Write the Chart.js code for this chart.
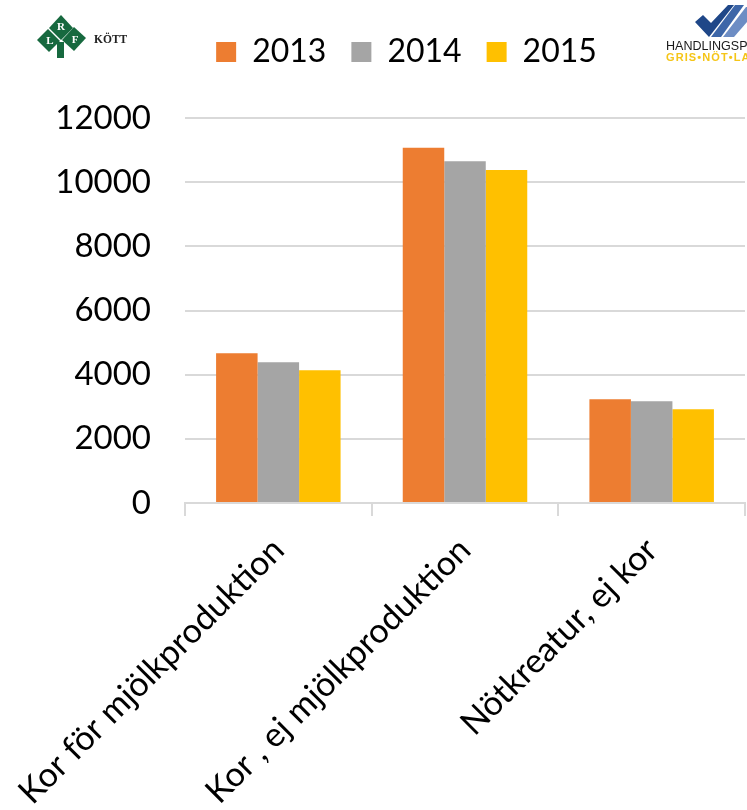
<!DOCTYPE html>
<html>
<head>
<meta charset="utf-8">
<style>
  html, body { margin: 0; padding: 0; background: #fff; overflow: hidden; }
  #wrap { position: relative; width: 747px; height: 810px; }
  canvas { position: absolute; left: 0; top: 0; }
  svg { position: absolute; }
</style>
<script src="https://cdn.jsdelivr.net/npm/chart.js"></script>
</head>
<body>
<div id="wrap">
  <canvas id="myChart" width="747" height="810"></canvas>

  <!-- LRF Kött logo -->
  <svg style="left:0;top:0" width="150" height="70" viewBox="0 0 150 70">
    <g fill="#17693f">
      <polygon points="61,15 73,28 61,40 49,28"/>
      <polygon points="48,29 60,41 49,52 37,40"/>
      <polygon points="74,27 86,38 74,51 62,40"/>
      <rect x="57" y="42" width="7" height="16"/>
    </g>
    <g fill="#fff" font-family="Liberation Serif" font-weight="bold" font-size="11" text-anchor="middle">
      <text x="61" y="30">R</text>
      <text x="50" y="44">L</text>
      <text x="75" y="43">F</text>
    </g>
    <text x="94" y="43" font-family="Liberation Serif" font-weight="bold" font-size="11.5" fill="#222">KÖTT</text>
  </svg>

  <!-- Handlingsplan logo, cut off by the picture edge -->
  <svg style="left:620px;top:0" width="127" height="70" viewBox="0 0 127 70">
    <polygon points="75,22 83,15 91,23 108,5 114,5 89,37" fill="#1f4788"/>
    <polygon points="91,37 115,5 124,5 101,37" fill="#3d66a8"/>
    <polygon points="103,37 126,7 127,7 127,22 114,37" fill="#6d8dc4"/>
    <text x="46" y="50" font-family="Liberation Sans" font-size="12.5" fill="#1a1a1a" textLength="106" lengthAdjust="spacingAndGlyphs">HANDLINGSPLAN</text>
    <text x="46" y="61" font-family="Liberation Sans" font-weight="bold" font-size="11" fill="#f5c518" textLength="104" lengthAdjust="spacing">GRIS•NÖT•LAMM</text>
  </svg>
</div>

<script>
// Values
const categories = ['Kor för mjölkproduktion', 'Kor , ej mjölkproduktion', 'Nötkreatur, ej kor'];
const years = ['2013', '2014', '2015'];
const values2013 = [4670, 11070, 3235];
const values2014 = [4390, 10650, 3170];
const values2015 = [4140, 10380, 2920];
const yearColors = ['#ed7d31', '#a5a5a5', '#ffc000'];
const yTicks = [0, 2000, 4000, 6000, 8000, 10000, 12000];

const fontFamily = 'Lato, "Open Sans", sans-serif';
const gridColor = '#d9d9d9';

// keeps the legend row up by the logos and leaves the gap down to the plot
const legendPlace = {
  id: 'legendPlace',
  beforeLayout(chart) {
    const legend = chart.legend;
    if (!legend._placed) {
      const fit = legend.fit.bind(legend);
      legend.fit = function () {
        fit();
        this.height = 107;
      };
      legend._placed = true;
    }
  },
  afterLayout(chart) {
    chart.legend.left += 34;
    chart.legend.right += 34;
  }
};

const chart = new Chart(document.getElementById('myChart').getContext('2d'), {
  type: 'bar',
  data: {
    labels: categories,
    datasets: [values2013, values2014, values2015].map((vals, i) => ({
      label: years[i],
      data: vals,
      backgroundColor: yearColors[i],
      borderWidth: 0,
      barPercentage: 1,
      categoryPercentage: 0.667
    }))
  },
  plugins: [legendPlace],
  options: {
    responsive: false,
    animation: false,
    layout: { padding: { top: 11, right: 2, left: 0, bottom: 0 } },
    plugins: {
      tooltip: { enabled: false },
      legend: {
        position: 'top',
        align: 'center',
        labels: {
          boxWidth: 20,
          boxHeight: 20,
          padding: 25,
          color: '#000',
          font: { family: fontFamily, size: 32 }
        }
      }
    },
    scales: {
      x: {
        offset: true,
        grid: {
          offset: true,
          drawOnChartArea: false,
          drawTicks: true,
          tickLength: 13,
          color: gridColor,
          lineWidth: 2
        },
        border: { color: gridColor, width: 2 },
        ticks: {
          color: '#000',
          font: { family: fontFamily, size: 34 },
          minRotation: 45,
          maxRotation: 45,
          padding: 14,
          autoSkip: false
        },
        afterFit(scale) {
          scale.height = 810 - 503;
          scale.paddingLeft = 0;
          scale.paddingRight = 0;
        }
      },
      y: {
        min: 0,
        max: 12000,
        afterBuildTicks(scale) {
          scale.ticks = yTicks.map(v => ({ value: v }));
        },
        grid: { color: gridColor, lineWidth: 2, drawTicks: false },
        border: { display: false },
        ticks: {
          color: '#000',
          font: { family: fontFamily, size: 33 },
          padding: 34,
          callback: v => String(v)
        },
        afterFit(scale) {
          scale.width = 185;
          scale.paddingTop = 0;
          scale.paddingBottom = 0;
        }
      }
    }
  }
});
</script>
</body>
</html>
